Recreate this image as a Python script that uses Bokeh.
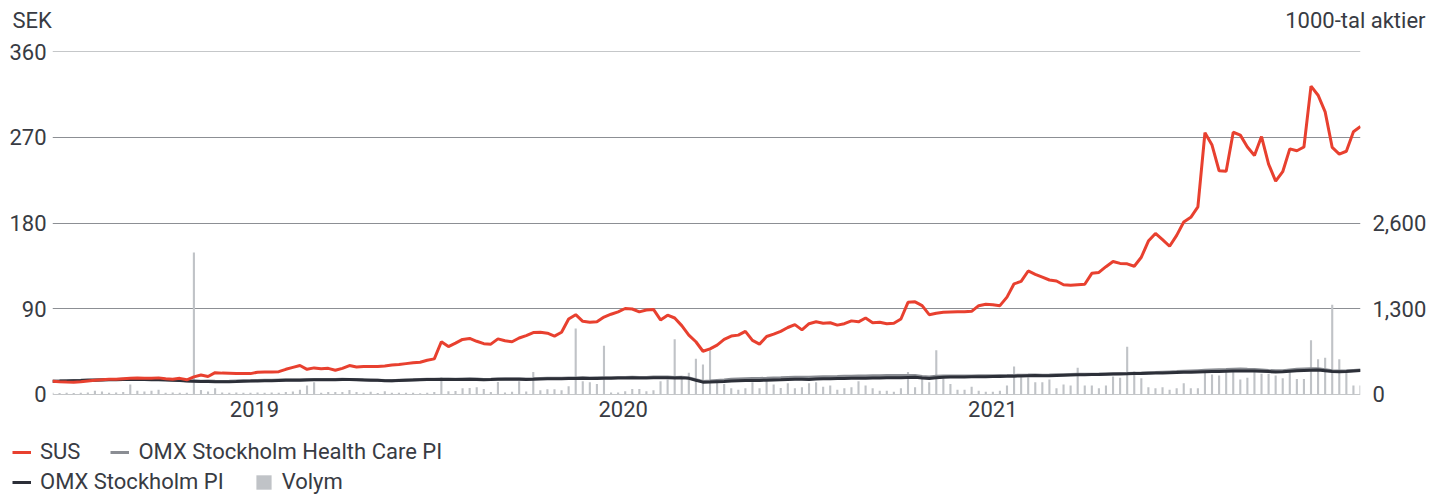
import pandas as pd
from bokeh.plotting import figure
from bokeh.layouts import column
from bokeh.models import (Range1d, LinearAxis, FixedTicker, NumeralTickFormatter,
                          DatetimeTickFormatter, Legend, LegendItem)
from bokeh.core.properties import value
from bokeh.embed import file_html
from bokeh.resources import INLINE

# ---------------- data ----------------
start_date = "2018-06-15"
n_weeks = 186
dates = pd.date_range(start_date, periods=n_weeks, freq="7D")

sus = [
    13.5, 13, 12.7, 12.5, 13, 13.8, 14.5, 15, 15.5, 15.5,
    16, 16.5, 16.8, 16.6, 16.5, 17, 16, 15.5, 16.5, 15,
    18, 20, 18.5, 22.5, 22, 21.8, 21.5, 21.5, 21.5, 23,
    23.2, 23.2, 23.5, 26, 28, 30, 26, 27.5, 26.5, 27,
    25, 27, 30, 28.5, 29, 29, 29, 29.5, 30.5, 31,
    32, 33, 33.5, 35.5, 37, 55, 50, 53.5, 57.5, 58.5,
    55.5, 53, 52.5, 58, 56, 55, 59, 61.5, 64.7, 65,
    64, 61, 65, 79, 83.5, 76.5, 75.5, 76, 81, 84,
    86.5, 90, 89.5, 86.5, 88.5, 89, 78, 83, 80, 72,
    62, 55, 45, 47.5, 51.5, 57.5, 61, 62, 66, 56.5,
    52.5, 60.5, 63, 66, 70, 73, 67.5, 74, 76, 74.5,
    75, 72.5, 74, 77, 76, 80, 75, 75.5, 74, 74.5,
    79, 96.5, 97, 93, 83.5, 85, 86, 86.3, 86.5, 86.5,
    87, 93, 94.5, 94, 93, 102, 116, 118.5, 129.5, 126,
    123, 120, 119, 115, 114.5, 115, 115.5, 127, 128, 134,
    139.5, 137.5, 137, 134.5, 144, 161, 169, 162.5, 155.5, 167,
    181, 186, 197, 275, 262, 235, 234.5, 275.5, 272.5, 260,
    251, 271, 242, 224, 234, 258, 256, 260, 324, 314.5,
    297, 259.5, 252.5, 255.5, 276, 281.5,
]

omx_health_care = [
    13.5, 13.7, 14, 14.3, 14.5, 14.8, 15, 15.1, 15.3, 15.4,
    15.6, 15.7, 15.8, 15.6, 15.4, 15.5, 15.2, 14.8, 14.4, 13.9,
    13.7, 13.5, 13.6, 13.4, 13.3, 13.5, 13.8, 14, 14.1, 14.3,
    14.5, 14.6, 14.8, 14.9, 15, 15.1, 15.3, 15.2, 15.3, 15.2,
    15.3, 15.5, 15.4, 15.2, 14.9, 14.7, 14.5, 14.2, 14.1, 14.5,
    14.8, 15, 15.3, 15.5, 15.6, 15.8, 15.7, 15.5, 15.8, 15.9,
    15.7, 15.4, 15.6, 15.9, 16, 16.1, 16, 15.8, 16, 16.3,
    16.5, 16.5, 16.6, 16.8, 16.9, 17, 16.9, 17, 17.1, 17.2,
    17.4, 17.5, 17.6, 17.4, 17.5, 17.8, 18, 17.9, 17.5, 17.6,
    17, 15, 13.3, 13.6, 14.2, 14.8, 15.5, 15.8, 16.1, 16.3,
    16.4, 16.6, 16.9, 17.1, 17.4, 17.6, 17.7, 17.6, 17.9, 18.1,
    18.3, 18.4, 18.6, 18.7, 18.9, 19, 19.2, 19.3, 19.5, 19.6,
    19.5, 19.6, 19.5, 18.4, 18, 18.7, 18.9, 19, 19, 19.1,
    19.1, 19.2, 19.3, 19.3, 19.4, 19.5, 19.6, 19.8, 19.9, 20.1,
    19.8, 19.9, 20.2, 20.3, 20.5, 20.7, 20.8, 20.9, 21, 21.2,
    21.4, 21.6, 21.7, 21.9, 22, 22.3, 22.6, 23, 23.3, 23.6,
    24, 24.3, 24.6, 24.9, 25.2, 25.5, 25.8, 26.2, 26.3, 26,
    25.8, 25.4, 24.8, 24.4, 24.6, 25.4, 26, 26.3, 26.5, 26.6,
    25.6, 24.4, 24.2, 24.4, 24.8, 25.2,
]

omx_pi = [
    13.5, 13.6, 13.8, 14, 14.2, 14.5, 14.6, 14.8, 15, 15,
    15.2, 15.2, 15.3, 15.2, 15, 15.1, 14.8, 14.5, 14.2, 13.8,
    13.5, 13.2, 13.3, 13, 12.9, 13, 13.2, 13.5, 13.6, 13.8,
    14, 14.1, 14.3, 14.5, 14.6, 14.6, 14.8, 14.9, 15, 15,
    15.1, 15.2, 15.2, 15, 14.8, 14.6, 14.4, 14, 13.9, 14.2,
    14.5, 14.8, 15, 15.2, 15.3, 15.4, 15.3, 15.2, 15.4, 15.5,
    15.3, 15, 15.2, 15.5, 15.6, 15.6, 15.5, 15.3, 15.5, 15.8,
    16, 16, 16.1, 16.3, 16.4, 16.5, 16.4, 16.4, 16.5, 16.6,
    16.8, 16.9, 17, 16.8, 16.9, 17.1, 17.2, 17.1, 16.8, 17,
    16.5, 14.5, 12.5, 12.6, 13, 13.3, 13.8, 14, 14.2, 14.3,
    14.3, 14.5, 14.8, 15, 15.3, 15.5, 15.5, 15.4, 15.8, 16,
    16.2, 16.3, 16.4, 16.5, 16.6, 16.7, 16.8, 16.8, 17, 17.2,
    17.2, 17.5, 17.6, 16.8, 16.4, 17.2, 17.6, 17.8, 18, 18,
    18.1, 18.2, 18.3, 18.4, 18.5, 18.6, 18.8, 19, 19.2, 19.4,
    19.2, 19.3, 19.6, 19.8, 20, 20.2, 20.4, 20.5, 20.6, 20.8,
    21, 21.2, 21.3, 21.5, 21.6, 21.8, 22, 22.2, 22.4, 22.6,
    22.8, 23, 23.2, 23.4, 23.6, 23.8, 24, 24.2, 24.3, 24.3,
    24.2, 24, 23.6, 23.2, 23.4, 24, 24.5, 24.8, 25, 25.2,
    24.6, 23.6, 23.5, 23.8, 24.3, 24.8,
]

volym = [  # 1000-tal aktier
    20, 15, 20, 15, 20, 25, 50, 40, 20, 25,
    30, 143, 50, 40, 50, 66, 20, 25, 20, 20,
    2150, 60, 40, 87, 25, 20, 25, 20, 20, 25,
    20, 25, 20, 30, 40, 66, 128, 180, 20, 30,
    30, 30, 60, 30, 20, 35, 15, 41, 20, 20,
    20, 20, 10, 20, 30, 256, 41, 46, 87, 92,
    102, 77, 30, 184, 25, 35, 194, 40, 333, 56,
    72, 72, 56, 118, 998, 194, 179, 153, 732, 25,
    25, 41, 77, 77, 41, 56, 194, 220, 834, 271,
    322, 537, 450, 665, 179, 153, 87, 66, 87, 179,
    87, 194, 143, 92, 164, 87, 102, 164, 179, 112,
    128, 66, 87, 102, 194, 128, 87, 50, 50, 35,
    87, 333, 102, 241, 179, 665, 241, 153, 66, 66,
    112, 50, 35, 35, 50, 128, 420, 256, 256, 179,
    179, 220, 87, 143, 128, 399, 128, 128, 87, 128,
    266, 246, 717, 343, 241, 102, 87, 102, 66, 87,
    164, 87, 87, 327, 297, 281, 333, 384, 220, 246,
    333, 307, 307, 281, 241, 348, 230, 230, 818, 527,
    553, 1356, 527, 333, 128, 128,
]

year_ticks = ["2019-01-01", "2020-01-01", "2021-01-01"]
sek_ticks = [0, 90, 180, 270, 360]
sek_range = (-0.5, 360.5)
vol_ticks = [0, 1300, 2600]
vol_per_sek = 1300 / 90          # right axis: 1,300 sits level with 90 SEK

# ---------------- styling ----------------
FONT = "Roboto"
FS = "22px"
TXT = "#383b43"
GRID = "#8c8f94"
RED = "#e8402f"
GRAY = "#8a8d93"
DARK = "#2c2f38"
BAR = "#c0c3c7"
W = 1429


def ms(d):
    return pd.Timestamp(d).value / 1e6


def blank(fig):
    fig.axis.visible = False
    fig.grid.visible = False
    fig.outline_line_color = None
    fig.background_fill_color = "white"
    fig.border_fill_color = "white"
    try:
        fig.frame_align = False
    except Exception:
        pass
    return fig


# ---------------- header strip (axis titles) ----------------
HEAD_H = 36
head = blank(figure(width=W, height=HEAD_H, x_range=Range1d(0, W), y_range=Range1d(0, HEAD_H),
                    output_backend="svg", toolbar_location=None,
                    min_border=0, min_border_left=0, min_border_right=0,
                    min_border_top=0, min_border_bottom=0))
head.text(x=[12], y=[HEAD_H - 20], text=["SEK"], text_align="left",
          text_baseline="middle", text_font=value(FONT), text_font_size=FS, text_color=TXT)
head.text(x=[W - 4], y=[HEAD_H - 20], text=["1000-tal aktier"], text_align="right",
          text_baseline="middle", text_font=value(FONT), text_font_size=FS, text_color=TXT)

# ---------------- main chart ----------------
MAIN_H = 394
p = figure(width=W, height=MAIN_H, x_axis_type="datetime",
           x_range=Range1d(ms(dates[0]), ms(dates[-1])),
           y_range=Range1d(*sek_range),
           output_backend="svg", toolbar_location=None,
           min_border_left=52, min_border_right=69,
           min_border_top=51 - HEAD_H, min_border_bottom=MAIN_H - (394 - HEAD_H))
p.outline_line_color = None
p.background_fill_color = "white"
p.border_fill_color = "white"
p.xgrid.visible = False
p.ygrid.ticker = FixedTicker(ticks=sek_ticks)
p.ygrid.grid_line_color = GRID
p.ygrid.grid_line_width = 1

p.extra_y_ranges = {"vol": Range1d(sek_range[0] * vol_per_sek, sek_range[1] * vol_per_sek)}
right_axis = LinearAxis(y_range_name="vol", ticker=FixedTicker(ticks=vol_ticks),
                        formatter=NumeralTickFormatter(format="0,0"))
p.add_layout(right_axis, "right")

p.yaxis[0].ticker = FixedTicker(ticks=sek_ticks)
p.xaxis[0].ticker = FixedTicker(ticks=[ms(t) for t in year_ticks])
p.xaxis[0].formatter = DatetimeTickFormatter(years="%Y", months="%Y", days="%Y",
                                             hours="%Y", minutes="%Y")

for ax in p.axis:
    ax.axis_line_color = None
    ax.major_tick_line_color = None
    ax.minor_tick_line_color = None
    ax.major_tick_out = 0
    ax.major_tick_in = 0
    ax.major_label_text_font = FONT
    ax.major_label_text_font_size = FS
    ax.major_label_text_color = TXT
p.yaxis[0].major_label_standoff = 6
right_axis.major_label_standoff = 12
p.xaxis[0].major_label_standoff = 6

xs = [ms(d) for d in dates]
p.vbar(x=xs, top=volym, bottom=0, width=2.1 * 86400000,
       y_range_name="vol", fill_color=BAR, line_color=None)
p.line(xs, omx_health_care, line_color=GRAY, line_width=3)
p.line(xs, omx_pi, line_color=DARK, line_width=3)
p.line(xs, sus, line_color=RED, line_width=3)

# ---------------- legend strip ----------------
LEG_H = 494 - HEAD_H - MAIN_H
lg = blank(figure(width=W, height=LEG_H, x_range=Range1d(0, 1), y_range=Range1d(0, 1),
                  output_backend="svg", toolbar_location=None,
                  min_border=0, min_border_left=0, min_border_right=0,
                  min_border_top=0, min_border_bottom=0))
off = [-5, -4]  # swatch renderers kept outside the visible range
k_sus = lg.line(off, off, line_color=RED, line_width=3)
k_hc = lg.line(off, off, line_color=GRAY, line_width=3)
k_pi = lg.line(off, off, line_color=DARK, line_width=3)
k_vol = lg.vbar(x=off, top=off, width=0.1, fill_color=BAR, line_color=None)


def make_legend(items, loc, lh):
    return Legend(items=items, orientation="horizontal", location=loc,
                  glyph_width=19, glyph_height=18, label_standoff=9, spacing=30,
                  padding=0, margin=0, border_line_color=None,
                  background_fill_alpha=0, label_text_font=FONT,
                  label_text_font_size=FS, label_text_color=TXT,
                  label_height=lh)


lg.add_layout(make_legend([LegendItem(label="SUS", renderers=[k_sus]),
                           LegendItem(label="OMX Stockholm Health Care PI", renderers=[k_hc])],
                          (12, LEG_H - 34), 24))
lg.add_layout(make_legend([LegendItem(label="OMX Stockholm PI", renderers=[k_pi]),
                           LegendItem(label="Volym", renderers=[k_vol])],
                          (12, 0), 20))

layout = column(head, p, lg, spacing=0)
open("out.html", "w").write(file_html(layout, INLINE))
